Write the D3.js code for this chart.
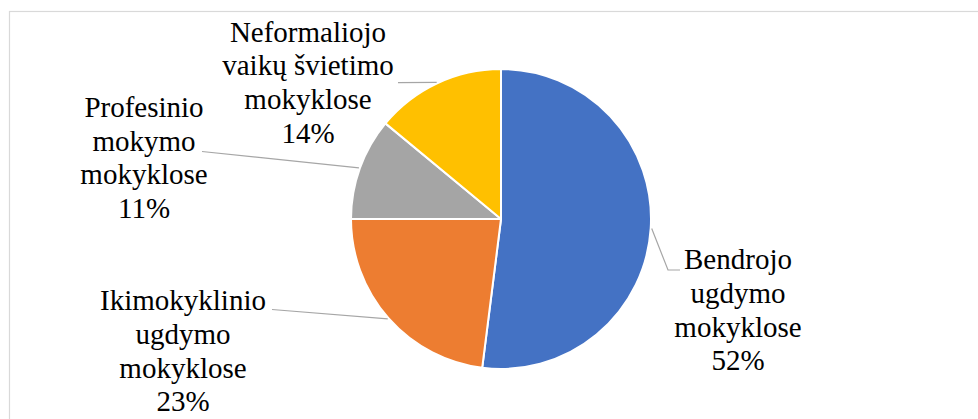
<!DOCTYPE html>
<html>
<head>
<meta charset="utf-8">
<script src="https://cdn.jsdelivr.net/npm/d3@7"></script>
<style>
  html, body { margin: 0; padding: 0; background: #fff; }
  svg { display: block; }
</style>
</head>
<body>
<svg id="chart" width="978" height="419"></svg>
<script>
// ---- data ----
const categories = [
  "Bendrojo ugdymo mokyklose",
  "Ikimokyklinio ugdymo mokyklose",
  "Profesinio mokymo mokyklose",
  "Neformaliojo vaikų švietimo mokyklose"
];
const labelLines = [
  ["Bendrojo", "ugdymo", "mokyklose"],
  ["Ikimokyklinio", "ugdymo", "mokyklose"],
  ["Profesinio", "mokymo", "mokyklose"],
  ["Neformaliojo", "vaikų švietimo", "mokyklose"]
];
const values = [52, 23, 11, 14];
const colors = ["#4472C4", "#ED7D31", "#A5A5A5", "#FFC000"];

// ---- layout (not data) ----
const W = 978, H = 419;
const cx = 501, cy = 219, R = 150;
const fontSize = 29, lineH = 33.7;
const fontFamily = "'Liberation Serif', 'Times New Roman', Times, serif";
const labelLayout = [
  { x: 738, y: 269.3, leader: [[668, 270], [680, 270]] },
  { x: 183, y: 310.3, leader: [[272, 309.5]] },
  { x: 144, y: 117,   leader: [[202, 151.5]] },
  { x: 308, y: 41.7,  leader: [[398, 82.7]] }
];

const svg = d3.select("#chart");

svg.append("rect")
  .attr("x", 9.5).attr("y", 11.5)
  .attr("width", W + 20).attr("height", H + 20)
  .attr("fill", "none").attr("stroke", "#D9D9D9").attr("stroke-width", 1.2);

const pie = d3.pie().sort(null).value(d => d)(values);
const arc = d3.arc().innerRadius(0).outerRadius(R);

const g = svg.append("g").attr("transform", `translate(${cx},${cy})`);
g.selectAll("path.slice")
  .data(pie)
  .join("path")
  .attr("class", "slice")
  .attr("d", arc)
  .attr("fill", (d, i) => colors[i])
  .attr("stroke", "#fff")
  .attr("stroke-width", 2)
  .attr("stroke-linejoin", "round");

const line = d3.line();
pie.forEach((d, i) => {
  const mid = (d.startAngle + d.endAngle) / 2;
  const start = [cx + (R + 1) * Math.sin(mid), cy - (R + 1) * Math.cos(mid)];
  const pts = [start].concat(labelLayout[i].leader);
  svg.append("path")
    .attr("d", line(pts))
    .attr("fill", "none")
    .attr("stroke", "#A6A6A6")
    .attr("stroke-width", 1.2);
});

const total = d3.sum(values);
pie.forEach((d, i) => {
  const L = labelLayout[i];
  const lines = labelLines[i].concat([Math.round(values[i] / total * 100) + "%"]);
  const t = svg.append("text")
    .attr("text-anchor", "middle")
    .attr("font-family", fontFamily)
    .style("font-family", fontFamily)
    .attr("font-size", fontSize)
    .attr("fill", "#000");
  lines.forEach((s, k) => {
    t.append("tspan").attr("x", L.x).attr("y", L.y + k * lineH).text(s);
  });
});
</script>
</body>
</html>
